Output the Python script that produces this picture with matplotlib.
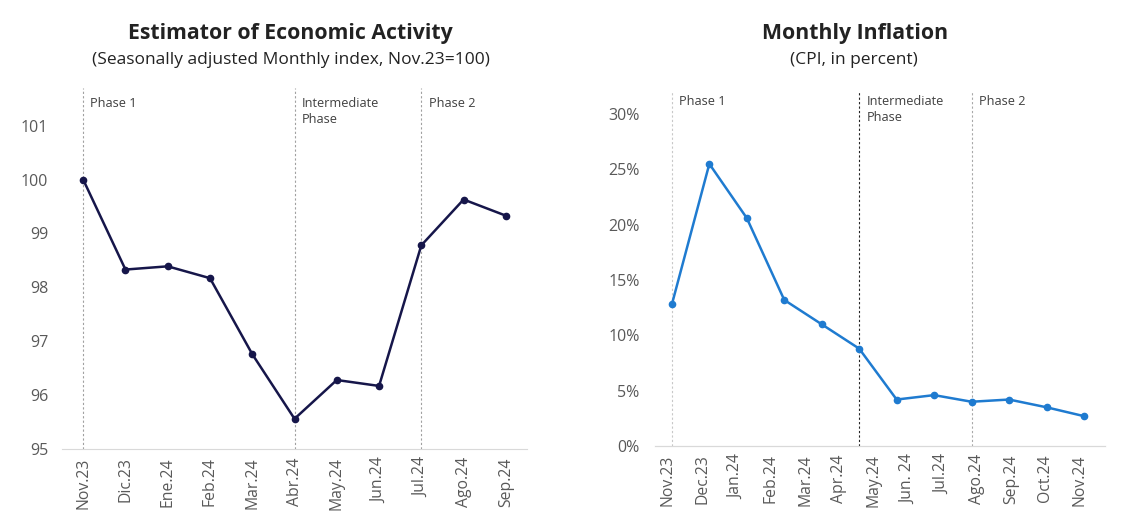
import matplotlib
matplotlib.use("Agg")
import matplotlib.pyplot as plt
import numpy as np

plt.rcParams['font.family'] = ['Open Sans', 'DejaVu Sans']

# Left chart data
emae_months = ["Nov.23", "Dic.23", "Ene.24", "Feb.24", "Mar.24", "Abr.24",
               "May.24", "Jun.24", "Jul.24", "Ago.24", "Sep.24"]
emae_values = [100.0, 98.33, 98.39, 98.17, 96.76, 95.56, 96.28, 96.17, 98.78, 99.63, 99.33]
emae_phase_idx = [0, 5, 8]
phase_labels = ["Phase 1", "Intermediate\nPhase", "Phase 2"]

# Right chart data
cpi_labels = ["Nov.23", "Dec.23", "Jan.24", "Feb.24", "Mar.24", "Apr.24", "May.24",
              "Jun. 24", "Jul.24", "Ago.24", "Sep.24", "Oct.24", "Nov.24"]
cpi_values = [12.8, 25.5, 20.6, 13.2, 11.0, 8.8, 4.2, 4.6, 4.0, 4.2, 3.5, 2.7]
cpi_phase_idx = [0, 5, 8]

navy = "#16164a"
blue = "#1f7bd0"
tick_gray = "#595959"
axis_gray = "#d9d9d9"

fig = plt.figure(figsize=(11.22, 5.13), dpi=100)

# ---------- Left chart ----------
ax1 = fig.add_axes([0.0553, 0.1248, 0.4144, 0.7037])
x1 = np.arange(len(emae_values))
ax1.plot(x1, emae_values, color=navy, lw=1.8, marker='o', ms=4.5, zorder=3)
ax1.set_xlim(-0.5, len(emae_values) - 0.5)
ax1.set_ylim(95, 101.7)
ax1.set_yticks([95, 96, 97, 98, 99, 100, 101])
ax1.set_xticks(x1)
ax1.set_xticklabels(emae_months, rotation=90)
for i in emae_phase_idx:
    ax1.axvline(i, color="#a0a0a0", lw=0.8, ls=(0, (2, 2)), zorder=1)
for i, lab in zip(emae_phase_idx, phase_labels):
    ax1.text(i + 0.17, 101.53, lab, fontsize=9.2, color="#404040", va='top', ha='left',
             linespacing=1.3)
fig.text(0.2585, 0.935, "Estimator of Economic Activity", fontsize=15.3,
         fontweight='bold', color="#222222", ha='center', va='center')
fig.text(0.2595, 0.883, "(Seasonally adjusted Monthly index, Nov.23=100)", fontsize=12.5,
         color="#222222", ha='center', va='center')

# ---------- Right chart ----------
ax2 = fig.add_axes([0.5838, 0.1306, 0.4010, 0.6901])
x2 = np.arange(len(cpi_values))
ax2.plot(x2, cpi_values, color=blue, lw=1.8, marker='o', ms=4.5, zorder=3)
ax2.set_xlim(-0.45, 11.56)
ax2.set_ylim(0, 32)
ax2.set_yticks([0, 5, 10, 15, 20, 25, 30])
ax2.set_yticklabels([f"{v}%" for v in [0, 5, 10, 15, 20, 25, 30]])
ax2.set_xticks([])
phase_colors = ["#c8c8c8", "#222222", "#a8a8a8"]
for i, c in zip(cpi_phase_idx, phase_colors):
    ax2.axvline(i, color=c, lw=0.8, ls=(0, (2, 2)), zorder=1)
for i, lab in zip(cpi_phase_idx, phase_labels):
    ax2.text(i + 0.2, 31.75, lab, fontsize=9.2, color="#404040", va='top', ha='left',
             linespacing=1.3)
fig.text(0.762, 0.935, "Monthly Inflation", fontsize=15.3, fontweight='bold',
         color="#222222", ha='center', va='center')
fig.text(0.761, 0.883, "(CPI, in percent)", fontsize=12.5, color="#222222",
         ha='center', va='center')

# Category labels on their own axis (13 labels across the 12 data points)
ax2b = ax2.twiny()
lab_a, lab_b = -0.11, 0.916
xl = ax2.get_xlim()
ax2b.set_xlim((xl[0] - lab_a) / lab_b, (xl[1] - lab_a) / lab_b)
ax2b.xaxis.set_ticks_position('bottom')
ax2b.set_xticks(np.arange(len(cpi_labels)))
ax2b.set_xticklabels(cpi_labels, rotation=90)

for ax in (ax1, ax2, ax2b):
    for s in ("top", "right", "left"):
        ax.spines[s].set_visible(False)
    ax.spines["bottom"].set_color(axis_gray)
    ax.tick_params(axis='both', length=0, labelsize=11.3, labelcolor=tick_gray)
    ax.tick_params(axis='x', pad=6)
ax1.tick_params(axis='y', pad=10, labelsize=11.5)
ax2.tick_params(axis='y', pad=11, labelsize=11.5)
ax2b.tick_params(axis='y', left=False, labelleft=False)

fig.savefig("out.png", dpi=100, facecolor="white")
